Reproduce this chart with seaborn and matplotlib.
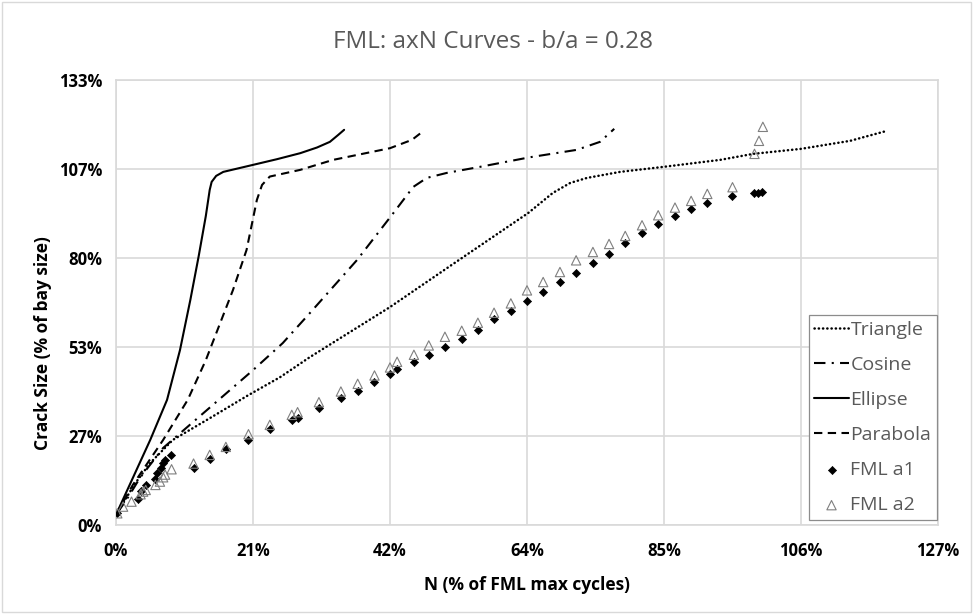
import matplotlib
matplotlib.use("Agg")
import matplotlib.pyplot as plt
import matplotlib.patches as patches
import seaborn as sns
import pandas as pd

# ---- data (fractions; axes are formatted as percent) ----
x_ticks = [0.0, 0.212, 0.424, 0.636, 0.848, 1.06, 1.272]
x_tick_labels = ["0%", "21%", "42%", "64%", "85%", "106%", "127%"]
y_ticks = [0.0, 0.2667, 0.5333, 0.8, 1.0667, 1.3333]
y_tick_labels = ["0%", "27%", "53%", "80%", "107%", "133%"]

triangle_n = [0.002, 0.014, 0.029, 0.053, 0.088, 0.146, 0.203, 0.254, 0.300, 0.424,
              0.517, 0.638, 0.676, 0.703, 0.729, 0.780, 0.847, 0.935, 0.986, 1.060,
              1.136, 1.193]
triangle_a = [0.036, 0.075, 0.123, 0.186, 0.255, 0.321, 0.387, 0.443, 0.503, 0.653,
              0.776, 0.935, 0.995, 1.025, 1.040, 1.058, 1.073, 1.094, 1.112, 1.127,
              1.151, 1.181]

cosine_n = [0.002, 0.019, 0.037, 0.073, 0.153, 0.212, 0.258, 0.300, 0.373, 0.427,
            0.460, 0.481, 0.512, 0.563, 0.641, 0.713, 0.749, 0.771]
cosine_a = [0.036, 0.084, 0.141, 0.231, 0.365, 0.464, 0.545, 0.635, 0.794, 0.929,
            1.013, 1.040, 1.055, 1.073, 1.102, 1.124, 1.148, 1.187]

ellipse_n = [0.001, 0.053, 0.079, 0.099, 0.115, 0.128, 0.139, 0.145, 0.148, 0.155,
             0.166, 0.212, 0.249, 0.285, 0.311, 0.331, 0.344, 0.353]
ellipse_a = [0.035, 0.255, 0.375, 0.524, 0.674, 0.806, 0.926, 1.004, 1.028, 1.046,
             1.058, 1.079, 1.096, 1.114, 1.131, 1.148, 1.169, 1.184]

parabola_n = [0.001, 0.026, 0.073, 0.111, 0.139, 0.171, 0.181, 0.202, 0.218, 0.226,
              0.238, 0.285, 0.336, 0.424, 0.458, 0.476]
parabola_a = [0.035, 0.120, 0.255, 0.375, 0.494, 0.654, 0.704, 0.824, 0.974, 1.019,
              1.044, 1.064, 1.094, 1.129, 1.154, 1.181]

fml_a1_n = [0.002, 0.034, 0.038, 0.046, 0.061, 0.064, 0.070, 0.073, 0.076, 0.085,
            0.120, 0.145, 0.170, 0.205, 0.238, 0.272, 0.281, 0.314, 0.348, 0.374,
            0.400, 0.424, 0.435, 0.461, 0.484, 0.509, 0.535, 0.560, 0.585, 0.611,
            0.636, 0.661, 0.687, 0.712, 0.738, 0.763, 0.788, 0.814, 0.839, 0.865,
            0.890, 0.915, 0.954, 0.988, 0.994, 1.000]
fml_a1_a = [0.035, 0.077, 0.103, 0.119, 0.139, 0.157, 0.172, 0.185, 0.195, 0.210,
            0.172, 0.199, 0.227, 0.254, 0.289, 0.315, 0.321, 0.350, 0.381, 0.401,
            0.429, 0.452, 0.467, 0.488, 0.510, 0.534, 0.557, 0.583, 0.616, 0.642,
            0.672, 0.698, 0.728, 0.754, 0.784, 0.812, 0.844, 0.874, 0.903, 0.927,
            0.947, 0.964, 0.985, 0.994, 0.994, 0.997]

fml_a2_n = [0.002, 0.011, 0.024, 0.038, 0.042, 0.046, 0.061, 0.068, 0.073, 0.076,
            0.086, 0.120, 0.145, 0.170, 0.205, 0.238, 0.272, 0.281, 0.314, 0.348,
            0.374, 0.400, 0.424, 0.435, 0.461, 0.484, 0.509, 0.535, 0.560, 0.585,
            0.611, 0.636, 0.661, 0.687, 0.712, 0.738, 0.763, 0.788, 0.814, 0.839,
            0.865, 0.890, 0.915, 0.954, 0.988, 0.995, 1.001]
fml_a2_a = [0.035, 0.055, 0.070, 0.092, 0.100, 0.105, 0.120, 0.130, 0.143, 0.151,
            0.167, 0.184, 0.210, 0.234, 0.272, 0.300, 0.330, 0.338, 0.368, 0.400,
            0.423, 0.448, 0.472, 0.489, 0.510, 0.538, 0.564, 0.582, 0.606, 0.636,
            0.664, 0.703, 0.728, 0.758, 0.793, 0.818, 0.842, 0.866, 0.898, 0.928,
            0.951, 0.971, 0.992, 1.012, 1.112, 1.151, 1.193]

# ---- style ----
sns.set_style("white")
plt.rcParams["font.family"] = ["Open Sans", "DejaVu Sans"]

fig = plt.figure(figsize=(9.73, 6.14), dpi=100)
ax = fig.add_axes([116 / 973, 89 / 614, 822 / 973, 445 / 614])

grid_c = "#d9d9d9"
line_kw = dict(ax=ax, x="N", y="a", sort=False, estimator=None, color="black")

curves = [
    ("Triangle", triangle_n, triangle_a,
     dict(linewidth=1.8, linestyle=(0, (0.1, 1.6)), dash_capstyle="round")),
    ("Cosine", cosine_n, cosine_a, dict(linewidth=1.5, linestyle=(0, (5.5, 3, 1, 3)))),
    ("Ellipse", ellipse_n, ellipse_a, dict(linewidth=1.5, linestyle="-")),
    ("Parabola", parabola_n, parabola_a, dict(linewidth=1.5, linestyle=(0, (4, 2.6)))),
]
for name, n, a, style in curves:
    df = pd.DataFrame({"N": n, "a": a})
    sns.lineplot(data=df, label=name, **line_kw, **style)

sns.scatterplot(x=fml_a1_n, y=fml_a1_a, ax=ax, marker="D", s=17, color="black",
                linewidth=0.5, edgecolor="black", label="FML a1", zorder=4)
sns.scatterplot(x=fml_a2_n, y=fml_a2_a, ax=ax, marker="^", s=45, facecolor="none",
                edgecolor="#7f7f7f", linewidth=0.8, label="FML a2", zorder=5)

ax.set_xlim(0, 1.272)
ax.set_ylim(0, 1.3333)
ax.set_xticks(x_ticks)
ax.set_xticklabels(x_tick_labels)
ax.set_yticks(y_ticks)
ax.set_yticklabels(y_tick_labels)
ax.grid(True, color=grid_c, linewidth=1.2)
ax.set_axisbelow(True)
for sp in ax.spines.values():
    sp.set_color(grid_c)
    sp.set_linewidth(1.2)
ax.tick_params(length=0, labelsize=12, labelcolor="black")
ax.tick_params(axis="x", pad=12)
ax.tick_params(axis="y", pad=10)
for lab in ax.get_xticklabels() + ax.get_yticklabels():
    lab.set_fontweight("bold")
ax.set_xlabel("")
ax.set_ylabel("")

fig.text(527 / 973, 1 - 585 / 614, "N (% of FML max cycles)", ha="center", va="center",
         fontsize=12.5, fontweight="bold", color="black")
fig.text(43 / 973, 1 - 343 / 614, "Crack Size (% of bay size)", ha="center", va="center",
         rotation=90, fontsize=12.5, fontweight="bold", color="black")
fig.text(493 / 973, 1 - 42 / 614, "FML: axN Curves - b/a = 0.28", ha="center",
         va="center", fontsize=17.5, color="#595959")

handles, labels = ax.get_legend_handles_labels()
leg = ax.legend(handles, labels, loc="lower right", bbox_to_anchor=(0.999, 0.011),
                fontsize=14, frameon=True, fancybox=False, edgecolor="#8c8c8c",
                framealpha=1, borderpad=0.3, labelspacing=0.88, handlelength=1.75,
                handletextpad=0.1, borderaxespad=0)
leg.get_frame().set_linewidth(0.9)
for t in leg.get_texts():
    t.set_color("#595959")

fig.patches.append(patches.Rectangle((0.002, 0.003), 0.996, 0.994, transform=fig.transFigure,
                                     fill=False, edgecolor=grid_c, linewidth=1.0))

fig.savefig("out.png", dpi=100)
